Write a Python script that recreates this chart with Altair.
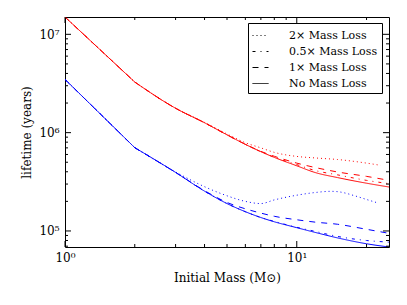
import altair as alt
import pandas as pd

# ---- data ----
mass = [1, 2, 3, 4, 5, 6, 7, 8, 10, 12, 15, 20, 25]

red_none = [1.5e7, 3.27e6, 1.77e6, 1.26e6, 9.5e5, 7.6e5, 6.4e5, 5.6e5, 4.6e5, 3.93e5, 3.49e5, 3.06e5, 2.8e5]
red_half = [1.5e7, 3.27e6, 1.77e6, 1.26e6, 9.5e5, 7.6e5, 6.4e5, 5.62e5, 4.73e5, 4.12e5, 3.72e5, 3.27e5, 3.03e5]
red_one = [1.5e7, 3.27e6, 1.77e6, 1.26e6, 9.5e5, 7.62e5, 6.45e5, 5.75e5, 4.9e5, 4.42e5, 3.98e5, 3.59e5, 3.27e5]
red_two_mass = [1, 2, 3, 4, 5, 6, 7, 8, 10, 12, 15, 20, 23]
red_two = [1.5e7, 3.27e6, 1.77e6, 1.27e6, 9.7e5, 7.9e5, 7.0e5, 6.3e5, 5.73e5, 5.53e5, 5.33e5, 4.9e5, 4.65e5]

blue_none = [3.48e6, 7.03e5, 3.94e5, 2.54e5, 1.9e5, 1.57e5, 1.37e5, 1.24e5, 1.08e5, 9.67e4, 8.5e4, 7.41e4, 6.87e4]
blue_half = [3.48e6, 7.03e5, 3.94e5, 2.54e5, 1.9e5, 1.57e5, 1.37e5, 1.25e5, 1.09e5, 9.9e4, 8.8e4, 8.0e4, 7.7e4]
blue_one = [3.48e6, 7.03e5, 3.94e5, 2.57e5, 1.95e5, 1.68e5, 1.52e5, 1.41e5, 1.30e5, 1.23e5, 1.17e5, 1.04e5, 9.46e4]
blue_two_mass = [1, 2, 3, 4, 5, 6, 7, 8, 10, 12, 14, 15, 18, 20, 22.5]
blue_two = [3.48e6, 7.03e5, 3.98e5, 2.82e5, 2.28e5, 2.0e5, 1.9e5, 2.07e5, 2.31e5, 2.46e5, 2.53e5, 2.51e5, 2.26e5, 2.09e5, 1.92e5]

loss_labels = ["2× Mass Loss", "0.5× Mass Loss", "1× Mass Loss", "No Mass Loss"]
dash_patterns = [[1, 3], [3, 5, 1, 5], [6, 6], [1, 0]]

x_major = [1, 10]
x_minor = [2, 3, 4, 5, 6, 7, 8, 9, 20]
y_major = [1e5, 1e6, 1e7]
y_minor = [7e4, 8e4, 9e4, 2e5, 3e5, 4e5, 5e5, 6e5, 7e5, 8e5, 9e5,
           2e6, 3e6, 4e6, 5e6, 6e6, 7e6, 8e6, 9e6]

# ---- table ----
rows = []
def add(star, loss, ms, vals):
    for m, v in zip(ms, vals):
        rows.append({"M": m, "life": v, "star": star, "loss": loss, "series": star + loss})

add("hi", loss_labels[0], red_two_mass, red_two)
add("hi", loss_labels[1], mass, red_half)
add("hi", loss_labels[2], mass, red_one)
add("hi", loss_labels[3], mass, red_none)
add("lo", loss_labels[0], blue_two_mass, blue_two)
add("lo", loss_labels[1], mass, blue_half)
add("lo", loss_labels[2], mass, blue_one)
add("lo", loss_labels[3], mass, blue_none)
df = pd.DataFrame(rows)

W, H = 324, 230
FONT = "DejaVu Serif"
xscale = alt.Scale(type="log", domain=[1, 25], nice=False)
yscale = alt.Scale(type="log", domain=[6.87e4, 1.5e7], nice=False)

common = dict(ticks=False, domain=False, grid=False, labelFlush=False,
              labelFont=FONT, labelFontSize=12, labelColor="black",
              titleFont=FONT, titleFontSize=12, titleFontWeight="normal", titleColor="black")
xaxis = alt.Axis(values=x_major, labelExpr="datum.value < 5 ? '10⁰' : '10¹'",
                 labelPadding=5, title="Initial Mass (M⊙)", titlePadding=9, **common)
yaxis = alt.Axis(values=y_major,
                 labelExpr="datum.value > 5e6 ? '10⁷' : (datum.value > 5e5 ? '10⁶' : '10⁵')",
                 labelPadding=6, title="lifetime (years)", titlePadding=5, **common)

base = alt.Chart(df).encode(
    x=alt.X("M:Q", scale=xscale, axis=xaxis),
    y=alt.Y("life:Q", scale=yscale, axis=yaxis),
    color=alt.Color("star:N", scale=alt.Scale(domain=["hi", "lo"], range=["#ff0000", "#0000ff"]),
                    legend=None),
    strokeDash=alt.StrokeDash("loss:N", scale=alt.Scale(domain=loss_labels, range=dash_patterns),
                              legend=alt.Legend(title=None, orient="none", legendX=183, legendY=6,
                                                symbolType="stroke", symbolStrokeColor="black",
                                                symbolStrokeWidth=1, symbolSize=256,
                                                labelFont=FONT, labelFontSize=11, labelOffset=20,
                                                labelColor="black",
                                                padding=4, rowPadding=2, fillColor="white",
                                                strokeColor="black", cornerRadius=0)),
    detail="series:N",
)
seg_low = base.transform_filter("datum.M <= 2").mark_line(strokeWidth=1, clip=True)
seg_high = base.transform_filter("datum.M >= 2").mark_line(strokeWidth=1, clip=True,
                                                           interpolate="monotone")

def xticks(vals, y0, y1):
    return alt.Chart(pd.DataFrame({"M": vals})).mark_rule(color="black", strokeWidth=1).encode(
        x=alt.X("M:Q", scale=xscale, axis=xaxis), y=alt.value(y0), y2=alt.value(y1))

def yticks(vals, x0, x1):
    return alt.Chart(pd.DataFrame({"life": vals})).mark_rule(color="black", strokeWidth=1).encode(
        y=alt.Y("life:Q", scale=yscale, axis=yaxis), x=alt.value(x0), x2=alt.value(x1))

MAJ, MIN = 6, 3
ticks = [
    xticks(x_major, H, H - MAJ), xticks(x_minor, H, H - MIN),
    xticks(x_major, 0, MAJ), xticks(x_minor, 0, MIN),
    yticks(y_major, 0, MAJ), yticks(y_minor, 0, MIN),
    yticks(y_major, W, W - MAJ), yticks(y_minor, W, W - MIN),
]

chart = alt.layer(seg_low, seg_high, *ticks).properties(
    width=W, height=H, background="white",
    autosize=alt.AutoSizeParams(type="none"),
    padding={"left": 57, "top": 9, "right": 10, "bottom": 50},
).configure_view(stroke="black", strokeWidth=1)

chart.save("out.html", embed_options={"renderer": "svg", "actions": False})
